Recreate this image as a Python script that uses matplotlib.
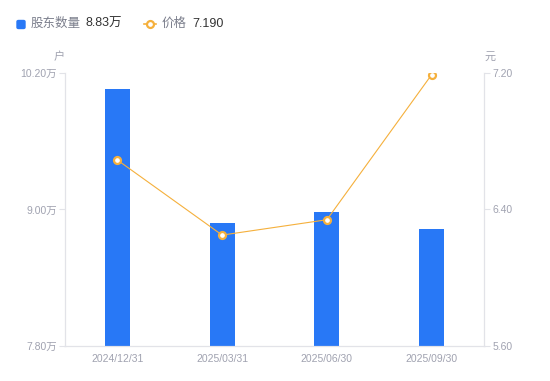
import matplotlib
matplotlib.use("Agg")
import matplotlib.pyplot as plt
from matplotlib.ticker import FixedLocator
from matplotlib.patches import FancyBboxPatch

plt.rcParams['font.family'] = ['Liberation Sans', 'Noto Sans CJK SC', 'DejaVu Sans']

categories = ["2024/12/31", "2025/03/31", "2025/06/30", "2025/09/30"]
holders = [10.06, 8.88, 8.98, 8.83]   # 万户
price = [6.69, 6.25, 6.34, 7.19]      # 元
left_ticks = [7.80, 9.00, 10.20]
right_ticks = [5.60, 6.40, 7.20]

BAR = "#2878f6"
LINE = "#f5b03c"
GRAY = "#a0a2b0"
SPINE = "#e2e3e8"

fig = plt.figure(figsize=(5.5, 3.81), dpi=100)
ax = fig.add_axes([65/550, 35/381, (484-65)/550, (346-73)/381])
x = list(range(len(categories)))
ax.bar(x, holders, width=0.24, color=BAR, zorder=2)
ax.set_xlim(-0.5, 3.5)
ax.set_ylim(7.8, 10.2)
ax.yaxis.set_major_locator(FixedLocator(left_ticks))
ax.set_yticklabels([f"{v:.2f}万" for v in left_ticks])
ax.set_xticks(x)
ax.set_xticklabels(categories)

ax2 = ax.twinx()
ax2.plot(x, price, color=LINE, lw=0.8, zorder=3)
ax2.plot(x, price, ls='none', marker='o', ms=5, mfc='white', mec=LINE, mew=1.6, zorder=4)
ax2.set_ylim(5.6, 7.2)
ax2.yaxis.set_major_locator(FixedLocator(right_ticks))
ax2.set_yticklabels([f"{v:.2f}" for v in right_ticks])

for a in (ax, ax2):
    for s in a.spines.values():
        s.set_color(SPINE)
        s.set_linewidth(0.8)
    a.spines['top'].set_visible(False)
    a.tick_params(colors=GRAY, labelsize=7.5, length=4, width=0.8, color=SPINE)
ax.tick_params(axis='x', length=0, pad=6)
ax.tick_params(axis='y', pad=2)
ax2.tick_params(axis='y', pad=2)

fig.text(59/550, 1-57/381, "户", color=GRAY, fontsize=8, ha='center', va='center')
fig.text(490/550, 1-57/381, "元", color=GRAY, fontsize=8, ha='center', va='center')

# legend
ly = 1 - 24/381
fig.patches.append(FancyBboxPatch((17/550, 1-28.5/381), 8/550, 8/381,
                                  boxstyle="round,pad=0,rounding_size=0.003",
                                  transform=fig.transFigure, color=BAR, figure=fig))
fig.text(31/550, ly, "股东数量", color="#7b7e8c", fontsize=9, va='center')
fig.text(85/550, ly, "8.83万", color="#333333", fontsize=9, va='center')
fig.lines.append(plt.Line2D([144/550, 156/550], [ly, ly], transform=fig.transFigure,
                            color=LINE, lw=1.2, figure=fig))
fig.lines.append(plt.Line2D([150/550], [ly], transform=fig.transFigure, marker='o', ms=5,
                            mfc='white', mec=LINE, mew=1.6, figure=fig))
fig.text(162/550, ly, "价格", color="#7b7e8c", fontsize=9, va='center')
fig.text(192/550, ly, "7.190", color="#333333", fontsize=9, va='center')

fig.savefig("out.png", dpi=100)
